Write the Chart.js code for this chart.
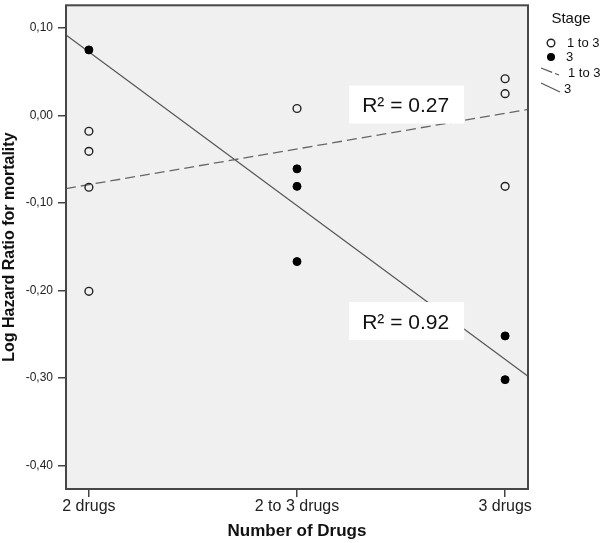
<!DOCTYPE html>
<html>
<head>
<meta charset="utf-8">
<title>Log Hazard Ratio by Number of Drugs</title>
<script src="https://cdn.jsdelivr.net/npm/chart.js@4.4.0/dist/chart.umd.min.js"></script>
<style>
html,body{margin:0;padding:0;background:#fff;}
</style>
</head>
<body>
<canvas id="chart" width="600" height="543"></canvas>
<script>
/* Data */
const xLabels = ['2 drugs','2 to 3 drugs','3 drugs'];
const yTicks = [0.1,0,-0.1,-0.2,-0.3,-0.4];
const stageNames = ['1 to 3','3'];
// Stage 1 to 3 (open circles)
const openX = [0,0,0,0,1,2,2,2];
const openY = [-0.018,-0.041,-0.082,-0.201,0.008,0.042,0.025,-0.081];
// Stage 3 (filled circles)
const fillX = [0,1,1,1,2,2];
const fillY = [0.075,-0.061,-0.081,-0.167,-0.252,-0.302];
const xMin = -0.11, xMax = 2.11;
const fitX = [xMin,xMax];
const fitOpenY = [-0.0835,0.007];
const fitFillY = [0.092,-0.298];
const r2Labels = ['R\u00b2 = 0.27','R\u00b2 = 0.92'];
const yMin = -0.427, yMax = 0.126;

const FONT = "'Liberation Sans', Arial, sans-serif";
const pts = (xs,ys)=>xs.map((x,i)=>({x,y:ys[i]}));

/* Plot background, frame, R2 boxes and legend */
const boxAt = [{x:1.527,y:0.0125},{x:1.527,y:-0.235}];
const decor = {
  id:'decor',
  beforeDraw(c){
    const a=c.chartArea, ctx=c.ctx;
    ctx.save();
    ctx.fillStyle='#f0f0f0';
    ctx.fillRect(a.left,a.top,a.right-a.left,a.bottom-a.top);
    ctx.restore();
  },
  afterDatasetsDraw(c){
    const ctx=c.ctx, sx=c.scales.x, sy=c.scales.y;
    ctx.save();
    r2Labels.forEach((t,i)=>{
      const cx=sx.getPixelForValue(boxAt[i].x), cy=sy.getPixelForValue(boxAt[i].y);
      ctx.fillStyle='#fff';
      ctx.fillRect(cx-57.5,cy-19,115,38);
      ctx.fillStyle='#111';
      ctx.font='21px '+FONT;
      ctx.textAlign='center';
      ctx.textBaseline='alphabetic';
      ctx.fillText(t,cx-1,cy+7.5);
    });
    ctx.restore();
  },
  afterDraw(c){
    const a=c.chartArea, ctx=c.ctx;
    ctx.save();
    ctx.strokeStyle='#474747';
    ctx.lineWidth=2;
    ctx.strokeRect(a.left,a.top,a.right-a.left,a.bottom-a.top);
    // legend
    ctx.fillStyle='#111';
    ctx.textBaseline='middle';
    ctx.textAlign='center';
    ctx.font='15px '+FONT;
    ctx.fillText('Stage',571,19);
    ctx.textAlign='left';
    ctx.font='13px '+FONT;
    ctx.lineWidth=1.4;
    ctx.strokeStyle='#222';
    ctx.beginPath(); ctx.arc(551,43,3.8,0,Math.PI*2); ctx.stroke();
    ctx.fillText(stageNames[0],567,43);
    ctx.beginPath(); ctx.arc(551,57,4,0,Math.PI*2); ctx.fillStyle='#000'; ctx.fill();
    ctx.fillStyle='#111';
    ctx.fillText(stageNames[1],566,57);
    ctx.strokeStyle='#555';
    ctx.lineWidth=1.2;
    ctx.setLineDash([12,3]);
    ctx.beginPath(); ctx.moveTo(541,68); ctx.lineTo(559,75); ctx.stroke();
    ctx.setLineDash([]);
    ctx.fillText(stageNames[0],568,73);
    ctx.beginPath(); ctx.moveTo(541,83); ctx.lineTo(560,92); ctx.stroke();
    ctx.fillText(stageNames[1],564,89);
    ctx.restore();
  }
};

new Chart(document.getElementById('chart'),{
  type:'scatter',
  data:{datasets:[
    {label:stageNames[0],data:pts(openX,openY),pointRadius:3.9,pointHoverRadius:3.9,
      pointBackgroundColor:'rgba(0,0,0,0)',pointBorderColor:'#222',pointBorderWidth:1.4},
    {label:stageNames[1],data:pts(fillX,fillY),pointRadius:4,pointHoverRadius:4,
      pointBackgroundColor:'#000',pointBorderColor:'#000',pointBorderWidth:1},
    {label:'Fit '+stageNames[0],data:pts(fitX,fitOpenY),showLine:true,pointRadius:0,
      borderColor:'#666',borderWidth:1.3,borderDash:[10,5]},
    {label:'Fit '+stageNames[1],data:pts(fitX,fitFillY),showLine:true,pointRadius:0,
      borderColor:'#555',borderWidth:1.2}
  ]},
  options:{
    responsive:false,
    animation:false,
    layout:{padding:{top:3,right:72,left:0,bottom:0}},
    plugins:{legend:{display:false},tooltip:{enabled:false}},
    scales:{
      x:{type:'linear',min:xMin,max:xMax,
        afterBuildTicks:s=>{s.ticks=xLabels.map((_,i)=>({value:i}));},
        afterFit:s=>{s.height=54;s.paddingLeft=0;s.paddingRight=0;},
        ticks:{callback:v=>xLabels[v],padding:0,color:'#222',autoSkip:false,maxRotation:0,
          font:{family:FONT,size:16}},
        grid:{drawOnChartArea:false,tickLength:8,color:'#444',lineWidth:1.5},
        border:{display:false},
        title:{display:true,text:'Number of Drugs',color:'#111',
          font:{family:FONT,size:17,weight:'bold'},padding:{top:0,bottom:1}}
      },
      y:{type:'linear',min:yMin,max:yMax,
        afterBuildTicks:s=>{s.ticks=yTicks.map(v=>({value:v}));},
        afterFit:s=>{s.width=66;s.paddingTop=0;s.paddingBottom=0;},
        ticks:{callback:v=>v.toFixed(2).replace('.',','),padding:5,color:'#222',
          font:{family:FONT,size:12}},
        grid:{drawOnChartArea:false,tickLength:8,color:'#444',lineWidth:1.5},
        border:{display:false},
        title:{display:true,text:'Log Hazard Ratio for mortality',color:'#111',
          font:{family:FONT,size:16,weight:'bold'},padding:0}
      }
    }
  },
  plugins:[decor]
});
</script>
</body>
</html>
